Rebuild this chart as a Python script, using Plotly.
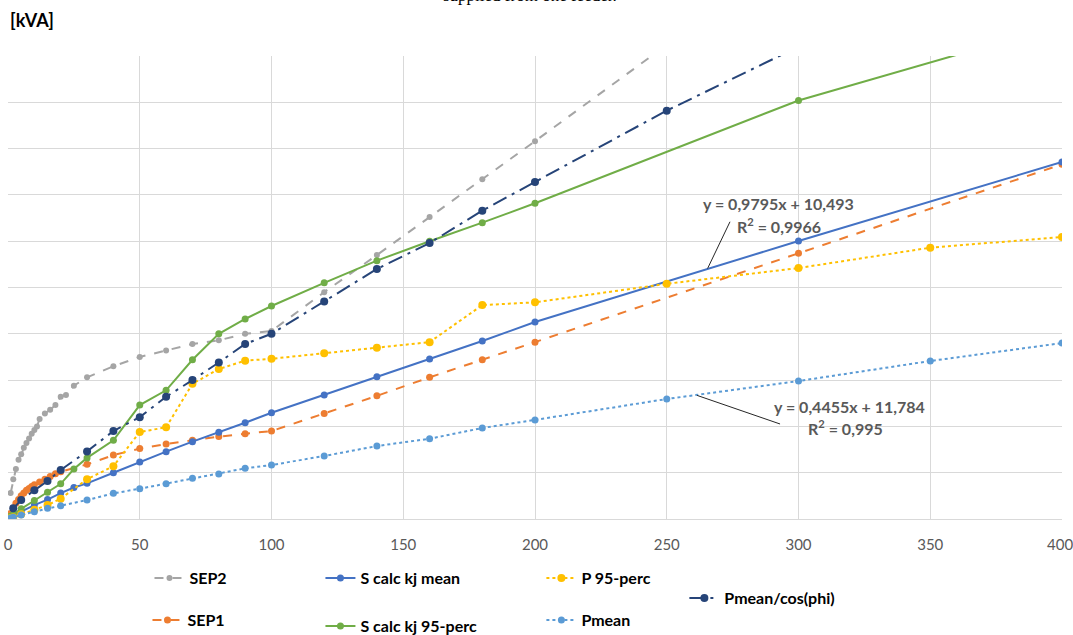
import plotly.graph_objects as go

# ---------------- data ----------------
sep2_x = [1, 2, 3, 4, 5, 6, 7, 8, 9, 10, 11, 12, 14, 16, 18, 20, 22, 25, 30, 40, 50, 60, 70, 80, 90, 100, 120, 140, 160, 180, 200, 250]
sep2_y = [28, 43, 54, 64, 70, 77, 82, 87, 92, 96, 100, 108, 114, 118, 123, 132, 134, 144, 153, 165, 175, 182, 189, 193, 200, 203, 245, 285, 326, 367, 408, 512]

sep1_x = [1, 2, 3, 4, 5, 6, 7, 8, 9, 10, 12, 14, 16, 18, 20, 30, 40, 50, 60, 70, 80, 90, 100, 120, 140, 160, 180, 200, 300, 400]
sep1_y = [6, 12, 17, 21, 25, 28, 31, 33, 35, 37, 40, 43, 46, 49, 51, 59, 69, 76, 81, 85, 89, 92, 95, 114, 133, 153, 172, 191, 287, 383]

smean_x = [1, 2, 5, 10, 15, 20, 25, 30, 40, 50, 60, 70, 80, 90, 100, 120, 140, 160, 180, 200, 300, 400]
smean_y = [2, 4, 8, 15, 21, 28, 34, 38.5, 50, 61.6, 72.7, 83.5, 93.6, 104, 114.8, 134, 153.7, 172.8, 192.2, 212.7, 300.2, 385.5]

s95_x = [1, 2, 5, 10, 15, 20, 25, 30, 40, 50, 60, 70, 80, 90, 100, 120, 140, 160, 180, 200, 300, 400]
s95_y = [3, 5, 11, 20, 29, 38, 54, 66, 85, 123, 139, 172, 200, 216, 230, 255, 279, 300, 320, 341, 452, 534]

p95_x = [1, 2, 5, 10, 15, 20, 30, 40, 50, 60, 70, 80, 90, 100, 120, 140, 160, 180, 200, 250, 300, 350, 400]
p95_y = [1, 2, 5, 10, 15, 22, 43, 57, 94, 99, 146, 162, 171, 173, 179, 185, 191, 231, 234, 254, 271, 293, 304.5]

pcos_x = [2, 5, 10, 15, 20, 30, 40, 50, 60, 70, 80, 90, 100, 120, 140, 160, 180, 200, 250, 300]
pcos_y = [11.5, 20.5, 31, 41, 53, 73, 95, 110, 132, 150, 169, 189, 200, 235, 270, 298, 333, 364, 441, 510]

pmean_x = [1, 2, 5, 10, 15, 20, 30, 40, 50, 60, 70, 80, 90, 100, 120, 140, 160, 180, 200, 250, 300, 350, 400]
pmean_y = [1, 2, 4.3, 7.9, 11.5, 14.4, 20.5, 27.7, 32.7, 38.1, 43.9, 48.6, 54.7, 58.3, 68, 78.8, 86.7, 98.3, 107, 129.6, 149, 170.6, 190]

x_ticks = [0, 50, 100, 150, 200, 250, 300, 350, 400]
x_tick_text = ["0", "50", "100", "150", "200", "250", "300", "350", "400\u00a0"]

trend1_text = ["y = 0,9795x + 10,493", "R<sup>2</sup> = 0,9966"]
trend2_text = ["y = 0,4455x + 11,784", "R<sup>2</sup> = 0,995"]

# ---------------- figure ----------------
FONT = "Lato"
TXT = "#595959"

series = [
    ("SEP2", sep2_x, sep2_y, "#A5A5A5", "dash", 6, "legend"),
    ("SEP1", sep1_x, sep1_y, "#ED7D31", "dash", 7, "legend5"),
    ("S calc kj mean", smean_x, smean_y, "#4472C4", "solid", 7, "legend2"),
    ("S calc kj 95-perc", s95_x, s95_y, "#70AD47", "solid", 7, "legend6"),
    ("P 95-perc", p95_x, p95_y, "#FFC000", "dot", 8, "legend3"),
    ("Pmean/cos(phi)", pcos_x, pcos_y, "#264478", "longdashdot", 8, "legend4"),
    ("Pmean", pmean_x, pmean_y, "#5B9BD5", "dot", 7, "legend7"),
]

fig = go.Figure()
for name, xs, ys, col, dash, ms, lg in series:
    fig.add_trace(go.Scatter(
        x=xs, y=ys, name="<b>" + name + "</b>", mode="lines+markers",
        line=dict(color=col, width=2, dash=dash),
        marker=dict(color=col, size=ms),
        legend=lg, cliponaxis=True,
    ))

W, H = 1073, 635
L, R, T, B = 7.5, 11.3, 56, 116
pw, ph = W - L - R, H - T - B

def px_x(p):
    return (p - L) / pw

def px_y(p):
    return (H - B - p) / ph

legend_pos = {
    "legend": (149, 578),
    "legend2": (320, 578),
    "legend3": (541, 578),
    "legend4": (684, 598),
    "legend5": (147, 620),
    "legend6": (320, 626),
    "legend7": (541, 620),
}
lkw = {}
for k, (lx, ly) in legend_pos.items():
    lkw[k] = dict(
        x=px_x(lx), y=px_y(ly), xanchor="left", yanchor="middle",
        bgcolor="rgba(0,0,0,0)", borderwidth=0,
        font=dict(family=FONT, size=16, color="#000000"),
        itemwidth=30, tracegroupgap=0,
    )

fig.update_layout(
    width=W, height=H,
    margin=dict(l=L, r=R, t=T, b=B, pad=0, autoexpand=False),
    paper_bgcolor="white", plot_bgcolor="white",
    showlegend=True,
    font=dict(family=FONT, color=TXT),
    **lkw,
)

fig.update_xaxes(
    range=[0, 400], tickvals=x_ticks, ticktext=x_tick_text,
    showgrid=True, gridcolor="#D9D9D9", gridwidth=1,
    zeroline=False, showline=True, linecolor="#D9D9D9", linewidth=1,
    ticks="", ticklabelstandoff=12, automargin=False, ticklabeloverflow="allow",
    tickfont=dict(family=FONT, size=15, color=TXT),
)
fig.update_yaxes(
    range=[0, 500], dtick=50, showticklabels=False,
    showgrid=True, gridcolor="#D9D9D9", gridwidth=1,
    zeroline=False, showline=False, automargin=False,
)

# trendline labels and leader lines
afont = dict(family=FONT, size=16, color=TXT)
fig.add_annotation(x=292.5, y=341, xref="x", yref="y", text="<b>" + trend1_text[0] + "</b>",
                   showarrow=False, yanchor="middle", font=afont)
fig.add_annotation(x=292.5, y=316.7, xref="x", yref="y", text="<b>" + trend1_text[1] + "</b>",
                   showarrow=False, yanchor="middle", font=afont)
fig.add_shape(type="line", xref="x", yref="y", x0=274, y0=321, x1=265.5, y1=270.5,
              line=dict(color="#262626", width=1))

fig.add_annotation(x=319.4, y=121.3, xref="x", yref="y", text="<b>" + trend2_text[0] + "</b>",
                   showarrow=False, yanchor="middle", font=afont)
fig.add_annotation(x=318, y=98.6, xref="x", yref="y", text="<b>" + trend2_text[1] + "</b>",
                   showarrow=False, yanchor="middle", font=afont)
fig.add_shape(type="line", xref="x", yref="y", x0=261.5, y0=133.5, x1=293, y1=102.6,
              line=dict(color="#262626", width=1))

# unit label and cut-off caption
fig.add_annotation(x=px_x(8), y=px_y(20), xref="paper", yref="paper", xanchor="left",
                   yanchor="middle", text="<b>[kVA]</b>", showarrow=False,
                   font=dict(family=FONT, size=18, color="#000000"))
fig.add_annotation(x=px_x(530), y=px_y(-4.5), xref="paper", yref="paper", xanchor="center",
                   yanchor="middle", text="supplied from one feeder.", showarrow=False,
                   font=dict(family="Liberation Serif", size=17, color="#000000"))

fig.write_html(
    "out.html",
    config={"displayModeBar": False},
    post_script="document.body.style.margin='0px';document.body.style.overflow='hidden';",
)
